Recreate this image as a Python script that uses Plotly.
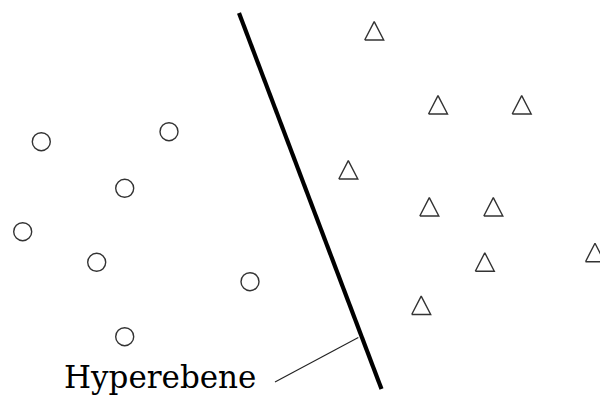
import plotly.graph_objects as go

# Class A samples (drawn as open circles); y grows downward
circle_x = [41.3, 169.0, 124.7, 22.7, 96.7, 124.7, 250.0]
circle_y = [141.7, 131.7, 188.3, 231.7, 262.3, 336.7, 281.7]

# Class B samples (drawn as open triangles)
tri_x = [374.2, 438.0, 521.7, 348.3, 429.3, 493.3, 484.8, 421.2, 595.0]
tri_y = [30.8, 104.8, 104.8, 169.8, 206.8, 206.8, 262.0, 305.3, 252.5]

# Separating hyperplane end points
plane_x = [239.0, 381.5]
plane_y = [13.0, 389.0]

# Leader line from the label to the hyperplane
leader_x = [275.0, 358.3]
leader_y = [382.0, 337.5]

label_text = "Hyperebene"
label_x = 62.0
label_y = 377.0

W, H = 600, 405
ink = "#333333"

# Equilateral-looking triangle outline around each centre
HALF_W, HALF_H = 9.5, 9.2
tx, ty = [], []
for cx, cy in zip(tri_x, tri_y):
    tx += [cx - HALF_W, cx + HALF_W, cx, cx - HALF_W, None]
    ty += [cy + HALF_H, cy + HALF_H, cy - HALF_H, cy + HALF_H, None]

fig = go.Figure()

fig.add_trace(go.Scatter(
    x=circle_x, y=circle_y, mode="markers",
    marker=dict(symbol="circle-open", size=18, color=ink, line=dict(width=1.4, color=ink)),
    hoverinfo="skip", showlegend=False,
))

fig.add_trace(go.Scatter(
    x=tx, y=ty, mode="lines",
    line=dict(color=ink, width=1.4),
    hoverinfo="skip", showlegend=False,
))

fig.add_trace(go.Scatter(
    x=plane_x, y=plane_y, mode="lines",
    line=dict(color="black", width=4.2),
    hoverinfo="skip", showlegend=False,
))

fig.add_trace(go.Scatter(
    x=leader_x, y=leader_y, mode="lines",
    line=dict(color="#222222", width=1.1),
    hoverinfo="skip", showlegend=False,
))

fig.add_annotation(
    x=label_x, y=label_y, xref="x", yref="y",
    text=label_text, showarrow=False,
    xanchor="left", yanchor="middle",
    font=dict(family="DejaVu Serif", size=31, color="black"),
)

fig.update_xaxes(range=[0, W], visible=False, fixedrange=True)
fig.update_yaxes(range=[H, 0], visible=False, fixedrange=True)

fig.update_layout(
    width=W, height=H,
    margin=dict(l=0, r=0, t=0, b=0),
    paper_bgcolor="white", plot_bgcolor="white",
)

fig.write_html("out.html")
